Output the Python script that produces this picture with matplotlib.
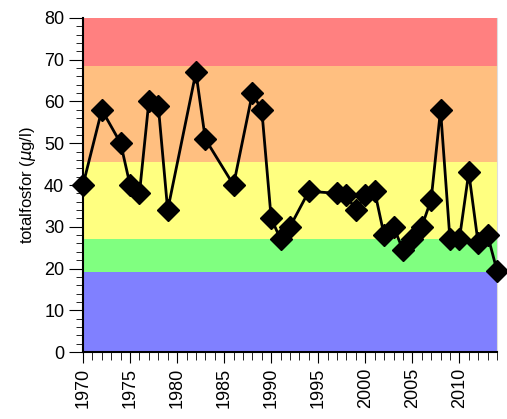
import matplotlib.pyplot as plt
from matplotlib.ticker import MultipleLocator

plt.rcParams['font.family'] = ['Liberation Sans', 'DejaVu Sans']

years = [1970, 1972, 1974, 1975, 1976, 1977, 1978, 1979, 1982, 1983, 1986, 1988, 1989,
         1990, 1991, 1992, 1994, 1997, 1998, 1999, 2000, 2001, 2002, 2003, 2004, 2005,
         2006, 2007, 2008, 2009, 2010, 2011, 2012, 2013, 2014]
totp = [40, 58, 50, 40, 38, 60, 59, 34, 67, 51, 40, 62, 58,
        32, 27, 30, 38.5, 38, 37.5, 34, 37.5, 38.5, 28, 30, 24.5, 27,
        30, 36.5, 58, 27, 27, 43, 26, 28, 19.5]

band_edges = [0, 19.2, 27, 45.5, 68.5, 80]
band_colors = ['#8080ff', '#80ff80', '#ffff80', '#ffbf80', '#ff8080']

fig = plt.figure(figsize=(5.07, 4.19), dpi=100)
ax = fig.add_axes([83/507, 1-352/419, 414/507, 334/419])

for lo, hi, c in zip(band_edges[:-1], band_edges[1:], band_colors):
    ax.axhspan(lo, hi, color=c, lw=0, zorder=0)

ax.plot(years, totp, color='black', lw=2, marker='D', markersize=11, zorder=3, clip_on=False)

ax.set_xlim(1970, 2014)
ax.set_ylim(0, 80)
ax.xaxis.set_major_locator(MultipleLocator(5))
ax.xaxis.set_minor_locator(MultipleLocator(1))
ax.yaxis.set_major_locator(MultipleLocator(10))
ax.yaxis.set_minor_locator(MultipleLocator(2))
ax.tick_params(axis='x', which='both', direction='out', rotation=90, labelsize=13)
ax.tick_params(axis='x', which='major', length=8)
ax.tick_params(axis='x', which='minor', length=6)
ax.tick_params(axis='y', which='major', direction='out', length=10, labelsize=13)
ax.tick_params(axis='y', which='minor', direction='out', length=5)
ax.set_ylabel(r'totalfosfor ($\mu$g/l)', fontsize=12)
ax.spines['top'].set_visible(False)
ax.spines['right'].set_color('#dddddd')
for s in ('left', 'bottom'):
    ax.spines[s].set_linewidth(1.5)

fig.savefig('out.png', dpi=100)
